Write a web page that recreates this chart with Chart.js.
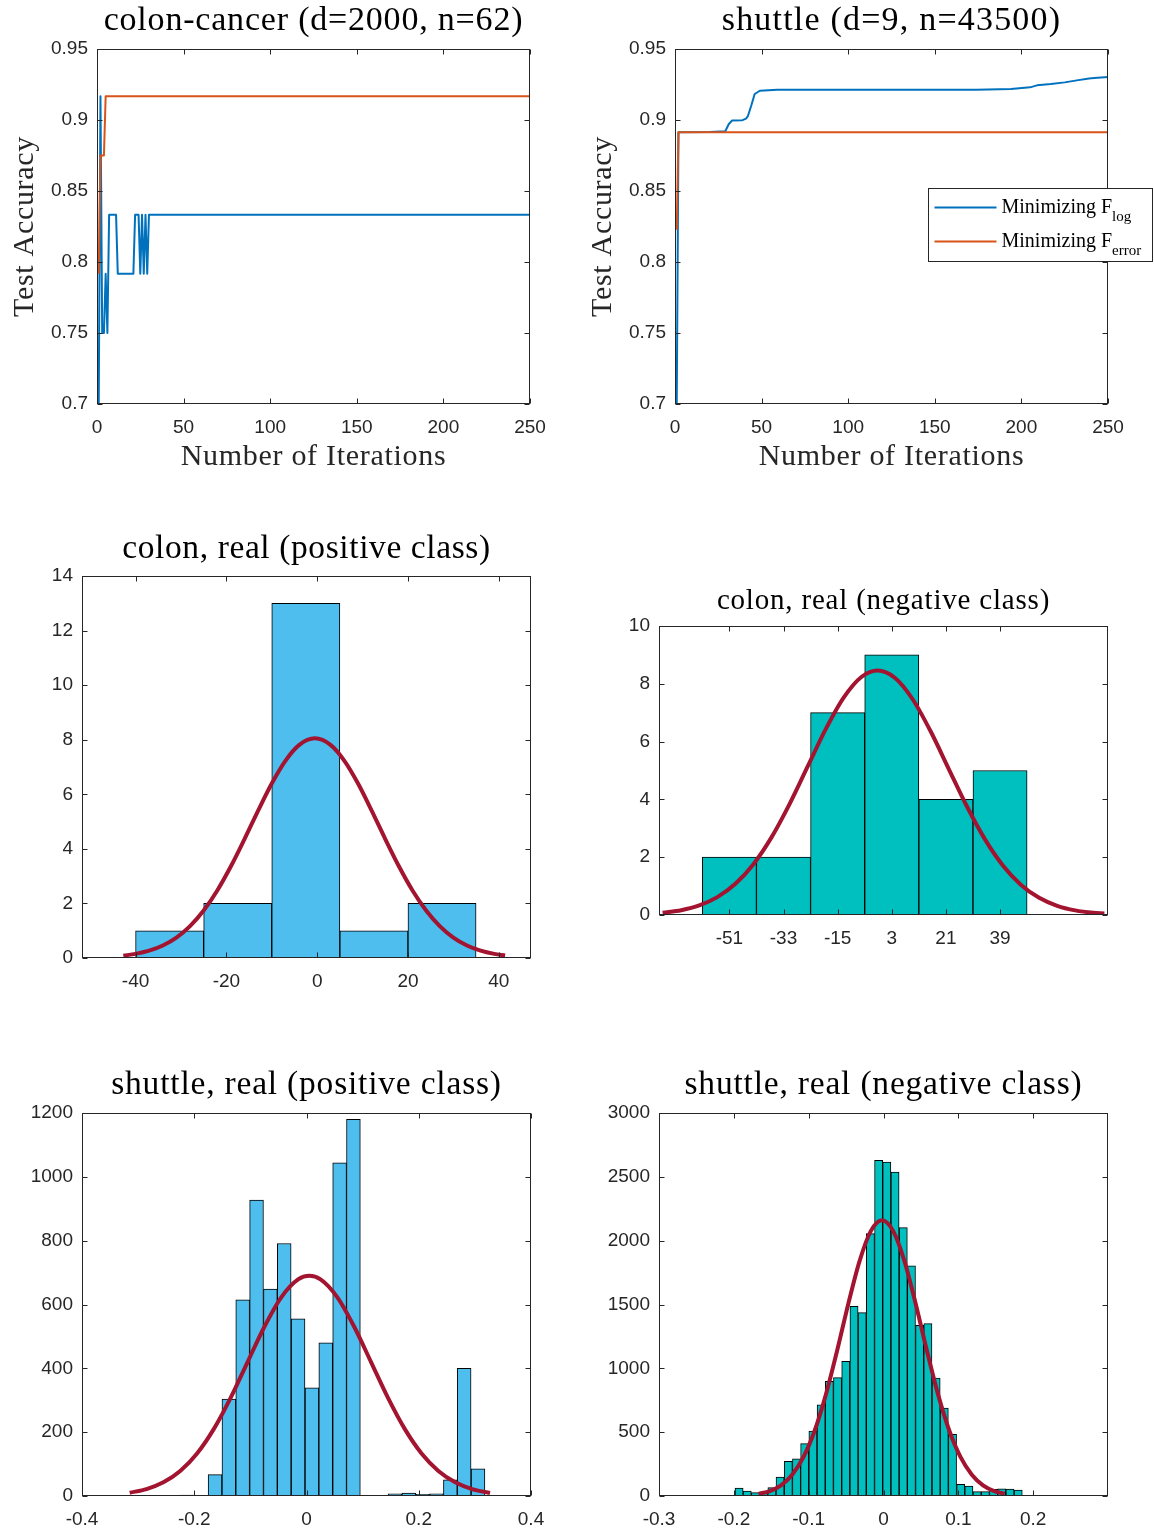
<!DOCTYPE html>
<html>
<head>
<meta charset="utf-8">
<script src="https://cdn.jsdelivr.net/npm/chart.js@4.4.1/dist/chart.umd.min.js"></script>
<style>
  html, body { margin: 0; padding: 0; background: #fff; }
  body { position: relative; width: 1154px; height: 1532px; overflow: hidden; }
  canvas { position: absolute; }
</style>
</head>
<body>
<canvas id="p1" width="560" height="480" style="left:0;top:0"></canvas>
<canvas id="p2" width="579" height="480" style="left:575px;top:0"></canvas>
<canvas id="p3" width="560" height="500" style="left:0;top:510px"></canvas>
<canvas id="p4" width="579" height="450" style="left:575px;top:560px"></canvas>
<canvas id="p5" width="560" height="482" style="left:0;top:1050px"></canvas>
<canvas id="p6" width="579" height="482" style="left:575px;top:1050px"></canvas>
<script>
// ---- accuracy curves (top row) ----
const iterTicks = [0, 50, 100, 150, 200, 250];
const accTicks = [0.7, 0.75, 0.8, 0.85, 0.9, 0.95];

const colonLogIter = [1, 2, 3, 4, 5, 6, 7, 11, 12, 21, 22, 24, 25, 26, 27, 28, 29, 30, 250];
const colonLogAcc = [0.7, 0.9167, 0.75, 0.75, 0.7917, 0.75, 0.8333, 0.8333, 0.7917, 0.7917, 0.8333, 0.8333, 0.7917, 0.8333, 0.7917, 0.8333, 0.7917, 0.8333, 0.8333];
const colonErrIter = [1, 2, 4, 5, 250];
const colonErrAcc = [0.7917, 0.875, 0.875, 0.9167, 0.9167];

const shuttleLogIter = [1, 2, 20, 29, 31, 33, 39, 41, 42, 44, 46, 49, 59, 174, 194, 205, 209, 217, 225, 232, 239, 242, 250];
const shuttleLogAcc = [0.7, 0.8913, 0.8916, 0.892, 0.897, 0.8997, 0.8999, 0.901, 0.9025, 0.91, 0.9183, 0.9206, 0.9213, 0.9213, 0.9218, 0.923, 0.9244, 0.9253, 0.9265, 0.9279, 0.9293, 0.9296, 0.9303];
const shuttleErrIter = [1, 2, 250];
const shuttleErrAcc = [0.8227, 0.8913, 0.8913];

// ---- colon histograms ----
const colonPosCenters = [-32.5, -17.5, -2.5, 12.5, 27.5];
const colonPosCounts = [1, 2, 13, 1, 2];
const colonPosFitX = [-42.7, -40, -37, -34, -31, -28, -25, -22, -19, -16, -13, -10, -7, -4, -0.5, 3, 6, 9, 12, 15, 18, 21, 24, 27, 30, 33, 36, 39, 41.4];
const colonPosFitY = [0.086, 0.15, 0.269, 0.46, 0.75, 1.17, 1.741, 2.475, 3.362, 4.361, 5.404, 6.395, 7.227, 7.802, 8.05, 7.802, 7.227, 6.395, 5.404, 4.361, 3.362, 2.475, 1.741, 1.17, 0.75, 0.46, 0.269, 0.15, 0.091];
const colonPosXTicks = [-40, -20, 0, 20, 40];
const colonPosYTicks = [0, 2, 4, 6, 8, 10, 12, 14];

const colonNegCenters = [-51, -33, -15, 3, 21, 39];
const colonNegCounts = [2, 2, 7, 9, 4, 5];
const colonNegFitX = [-73.2, -67, -61, -55, -49, -43, -37, -31, -25, -19, -13, -7, -1.7, 4, 10, 16, 22, 28, 34, 40, 46, 52, 58, 64, 70, 73.7];
const colonNegFitY = [0.08, 0.167, 0.332, 0.618, 1.078, 1.758, 2.685, 3.837, 5.131, 6.421, 7.521, 8.244, 8.46, 8.21, 7.457, 6.34, 5.043, 3.754, 2.616, 1.705, 1.041, 0.594, 0.318, 0.159, 0.074, 0.05];
const colonNegXTicks = [-51, -33, -15, 3, 21, 39];
const colonNegYTicks = [0, 2, 4, 6, 8, 10];

// ---- shuttle histograms ----
const shuttlePosCenters = [-0.3603, -0.3356, -0.3109, -0.2863, -0.2616, -0.237, -0.2123, -0.1876, -0.163, -0.1383, -0.1137, -0.089, -0.0643, -0.0397, -0.015, 0.0097, 0.0343, 0.059, 0.0836, 0.1083, 0.133, 0.1576, 0.1823, 0.2069, 0.2316, 0.2563, 0.2809, 0.3056];
const shuttlePosCounts = [2, 0, 0, 0, 0, 0, 3, 0, 67, 304, 615, 927, 648, 791, 555, 339, 480, 1044, 1180, 2, 0, 7, 9, 5, 7, 51, 400, 85];
const shuttlePosFitX = [-0.315, -0.285, -0.255, -0.225, -0.195, -0.165, -0.135, -0.105, -0.075, -0.045, -0.015, 0.005, 0.025, 0.055, 0.085, 0.115, 0.145, 0.175, 0.205, 0.235, 0.265, 0.295, 0.327];
const shuttlePosFitY = [10.3, 21.8, 42.9, 78.5, 133.3, 210.4, 308.3, 419.7, 530.4, 622.6, 678.7, 690, 678.7, 622.6, 530.4, 419.7, 308.3, 210.4, 133.3, 78.5, 42.9, 21.8, 9.6];
const shuttlePosXTicks = [-0.4, -0.2, 0, 0.2, 0.4];
const shuttlePosYTicks = [0, 200, 400, 600, 800, 1000, 1200];

const shuttleNegCenters = [-0.193, -0.1821, -0.1711, -0.1601, -0.1491, -0.1382, -0.1272, -0.1162, -0.1053, -0.0943, -0.0833, -0.0724, -0.0614, -0.0504, -0.0394, -0.0285, -0.0175, -0.0065, 0.0044, 0.0154, 0.0264, 0.0373, 0.0483, 0.0593, 0.0703, 0.0812, 0.0922, 0.1032, 0.1141, 0.1251, 0.1361, 0.1471, 0.158, 0.169, 0.18];
const shuttleNegCounts = [63, 39, 26, 30, 65, 149, 272, 292, 410, 509, 715, 898, 927, 1055, 1486, 1436, 2055, 2629, 2616, 2538, 2102, 1802, 1337, 1350, 924, 689, 483, 91, 78, 34, 34, 52, 57, 55, 47];
const shuttleNegFitX = [-0.167, -0.152, -0.137, -0.122, -0.107, -0.092, -0.077, -0.062, -0.047, -0.032, -0.017, -0.002, 0.013, 0.028, 0.043, 0.058, 0.073, 0.088, 0.103, 0.118, 0.133, 0.148, 0.162];
const shuttleNegFitY = [17, 39, 84, 167, 304, 511, 794, 1138, 1506, 1840, 2075, 2160, 2075, 1840, 1506, 1138, 794, 511, 304, 167, 84, 39, 18];
const shuttleNegXTicks = [-0.3, -0.2, -0.1, 0, 0.1, 0.2];
const shuttleNegYTicks = [0, 500, 1000, 1500, 2000, 2500, 3000];

// ---- styling ----
Chart.defaults.font.family = "'Liberation Sans', Arial, sans-serif";
Chart.defaults.font.size = 19;
Chart.defaults.color = '#262626';

const AXIS = '#262626';
const SERIF = "'Liberation Serif', 'Times New Roman', serif";
const BLUE = '#0072BD';
const ORANGE = '#D95319';
const FIT = '#A2142F';

const zip = (xs, ys) => xs.map((x, i) => ({ x: x, y: ys[i] }));

// box around the axes with inward tick marks (MATLAB style)
const axesBox = {
  id: 'axesBox',
  afterDraw(chart) {
    const { ctx, chartArea: a, scales } = chart;
    const L = Math.round(a.left) + 0.5, R = Math.round(a.right) - 0.5;
    const T = Math.round(a.top) + 0.5, B = Math.round(a.bottom) - 0.5;
    ctx.save();
    ctx.strokeStyle = AXIS;
    ctx.lineWidth = 1;
    ctx.beginPath();
    scales.x.ticks.forEach(t => {
      const p = Math.round(scales.x.getPixelForValue(t.value)) + 0.5;
      ctx.moveTo(p, B); ctx.lineTo(p, B - 5);
      ctx.moveTo(p, T); ctx.lineTo(p, T + 5);
    });
    scales.y.ticks.forEach(t => {
      const p = Math.round(scales.y.getPixelForValue(t.value)) + 0.5;
      ctx.moveTo(L, p); ctx.lineTo(L + 5, p);
      ctx.moveTo(R, p); ctx.lineTo(R - 5, p);
    });
    ctx.stroke();
    ctx.strokeRect(L, T, R - L, B - T);
    ctx.restore();
  }
};

// titles and axis labels in a serif face
const panelText = {
  id: 'panelText',
  afterDraw(chart, args, o) {
    const { ctx, chartArea: a } = chart;
    ctx.save();
    ctx.textAlign = 'center';
    ctx.textBaseline = 'alphabetic';
    if (o.title) {
      ctx.fillStyle = '#000';
      ctx.font = o.titleSize + 'px ' + SERIF;
      ctx.letterSpacing = o.titleSpacing + 'px';
      ctx.fillText(o.title, (a.left + a.right) / 2, a.top - o.titleGap);
    }
    ctx.fillStyle = AXIS;
    ctx.font = '30px ' + SERIF;
    ctx.letterSpacing = '0.7px';
    if (o.xLabel) {
      ctx.fillText(o.xLabel, (a.left + a.right) / 2, a.bottom + 61);
    }
    if (o.yLabel) {
      ctx.translate(a.left - 64, (a.top + a.bottom) / 2);
      ctx.rotate(-Math.PI / 2);
      ctx.fillText(o.yLabel, 0, 0);
    }
    ctx.restore();
  }
};

// legend with subscripted labels
const subLegend = {
  id: 'subLegend',
  afterDraw(chart, args, o) {
    if (!o.items) return;
    const { ctx, chartArea: a } = chart;
    const x0 = a.right - 180 + 0.5, y0 = a.top + 139 + 0.5;
    ctx.save();
    ctx.fillStyle = '#fff';
    ctx.fillRect(x0, y0, 224, 73);
    ctx.strokeStyle = AXIS;
    ctx.lineWidth = 1;
    ctx.strokeRect(x0, y0, 224, 73);
    o.items.forEach((it, i) => {
      const ly = y0 + 19 + i * 34;
      ctx.strokeStyle = it.color;
      ctx.lineWidth = 2;
      ctx.beginPath();
      ctx.moveTo(x0 + 6, ly);
      ctx.lineTo(x0 + 68, ly);
      ctx.stroke();
      ctx.fillStyle = '#000';
      ctx.textAlign = 'left';
      ctx.textBaseline = 'alphabetic';
      ctx.font = '20px ' + SERIF;
      ctx.fillText(it.text, x0 + 73, ly + 5);
      const w = ctx.measureText(it.text).width;
      ctx.font = '15px ' + SERIF;
      ctx.fillText(it.sub, x0 + 73 + w, ly + 13);
    });
    ctx.restore();
  }
};

function makeScales(p) {
  return {
    x: {
      type: 'linear', min: p.xMin, max: p.xMax, offset: false,
      grid: { display: false, drawTicks: false },
      border: { display: false },
      ticks: { padding: 12, autoSkip: false, maxRotation: 0, minRotation: 0, callback: v => String(v) },
      afterBuildTicks: s => { s.ticks = p.xTicks.map(v => ({ value: v })); },
      afterFit: s => { s.height = p.xH; }
    },
    y: {
      type: 'linear', min: p.yMin, max: p.yMax,
      grid: { display: false, drawTicks: false },
      border: { display: false },
      ticks: { padding: 9, autoSkip: false, callback: v => String(v) },
      afterBuildTicks: s => { s.ticks = p.yTicks.map(v => ({ value: v })); },
      afterFit: s => { s.width = p.yW; }
    }
  };
}

function baseOptions(p) {
  return {
    responsive: false,
    animation: false,
    devicePixelRatio: 1,
    layout: { padding: { left: 0, top: p.padTop, right: p.padRight, bottom: 0 } },
    scales: makeScales(p),
    plugins: {
      legend: { display: false },
      tooltip: { enabled: false },
      title: { display: false },
      panelText: p.text,
      subLegend: p.legend || {}
    }
  };
}

function accuracyChart(id, p, logData, errData) {
  new Chart(document.getElementById(id), {
    type: 'line',
    data: {
      datasets: [
        { data: logData, borderColor: BLUE, borderWidth: 2, pointRadius: 0, tension: 0, borderJoinStyle: 'round', order: 1 },
        { data: errData, borderColor: ORANGE, borderWidth: 2, pointRadius: 0, tension: 0, borderJoinStyle: 'round', order: 0 }
      ]
    },
    options: baseOptions(p),
    plugins: [axesBox, panelText, subLegend]
  });
}

function histChart(id, p, bars, fit, color) {
  new Chart(document.getElementById(id), {
    type: 'bar',
    data: {
      datasets: [
        { type: 'line', data: fit, borderColor: FIT, borderWidth: 4, pointRadius: 0,
          cubicInterpolationMode: 'monotone', order: 0 },
        { type: 'bar', data: bars, backgroundColor: color, borderColor: '#000', borderWidth: 1,
          borderSkipped: false, barPercentage: 1, categoryPercentage: 1, order: 1 }
      ]
    },
    options: baseOptions(p),
    plugins: [axesBox, panelText]
  });
}

accuracyChart('p1', {
  xMin: 0, xMax: 250, xTicks: iterTicks, yMin: 0.7, yMax: 0.95, yTicks: accTicks,
  padTop: 49, padRight: 30, yW: 97, xH: 76,
  text: { title: 'colon-cancer (d=2000, n=62)', titleSize: 34, titleSpacing: 0.8, titleGap: 19,
          xLabel: 'Number of Iterations', yLabel: 'Test Accuracy' }
}, zip(colonLogIter, colonLogAcc), zip(colonErrIter, colonErrAcc));

accuracyChart('p2', {
  xMin: 0, xMax: 250, xTicks: iterTicks, yMin: 0.7, yMax: 0.95, yTicks: accTicks,
  padTop: 49, padRight: 46, yW: 100, xH: 76,
  text: { title: 'shuttle (d=9, n=43500)', titleSize: 34, titleSpacing: 1.2, titleGap: 19,
          xLabel: 'Number of Iterations', yLabel: 'Test Accuracy' },
  legend: { items: [
    { text: 'Minimizing F', sub: 'log', color: BLUE },
    { text: 'Minimizing F', sub: 'error', color: ORANGE }
  ] }
}, zip(shuttleLogIter, shuttleLogAcc), zip(shuttleErrIter, shuttleErrAcc));

histChart('p3', {
  xMin: -51.8, xMax: 47.1, xTicks: colonPosXTicks, yMin: 0, yMax: 14, yTicks: colonPosYTicks,
  padTop: 66, padRight: 29, yW: 82, xH: 52,
  text: { title: 'colon, real (positive class)', titleSize: 33.5, titleSpacing: 0.6, titleGap: 18 }
}, zip(colonPosCenters, colonPosCounts), zip(colonPosFitX, colonPosFitY), '#4DBEEE');

histChart('p4', {
  xMin: -74.4, xMax: 74.9, xTicks: colonNegXTicks, yMin: 0, yMax: 10, yTicks: colonNegYTicks,
  padTop: 66, padRight: 46, yW: 84, xH: 95,
  text: { title: 'colon, real (negative class)', titleSize: 29, titleSpacing: 0.8, titleGap: 17 }
}, zip(colonNegCenters, colonNegCounts), zip(colonNegFitX, colonNegFitY), '#00BFBF');

histChart('p5', {
  xMin: -0.4, xMax: 0.4, xTicks: shuttlePosXTicks, yMin: 0, yMax: 1200, yTicks: shuttlePosYTicks,
  padTop: 63, padRight: 29, yW: 82, xH: 36,
  text: { title: 'shuttle, real (positive class)', titleSize: 33.5, titleSpacing: 0.8, titleGap: 19 }
}, zip(shuttlePosCenters, shuttlePosCounts), zip(shuttlePosFitX, shuttlePosFitY), '#4DBEEE');

histChart('p6', {
  xMin: -0.3, xMax: 0.3, xTicks: shuttleNegXTicks, yMin: 0, yMax: 3000, yTicks: shuttleNegYTicks,
  padTop: 63, padRight: 46, yW: 84, xH: 36,
  text: { title: 'shuttle, real (negative class)', titleSize: 33.5, titleSpacing: 0.8, titleGap: 19 }
}, zip(shuttleNegCenters, shuttleNegCounts), zip(shuttleNegFitX, shuttleNegFitY), '#00BFBF');
</script>
</body>
</html>
